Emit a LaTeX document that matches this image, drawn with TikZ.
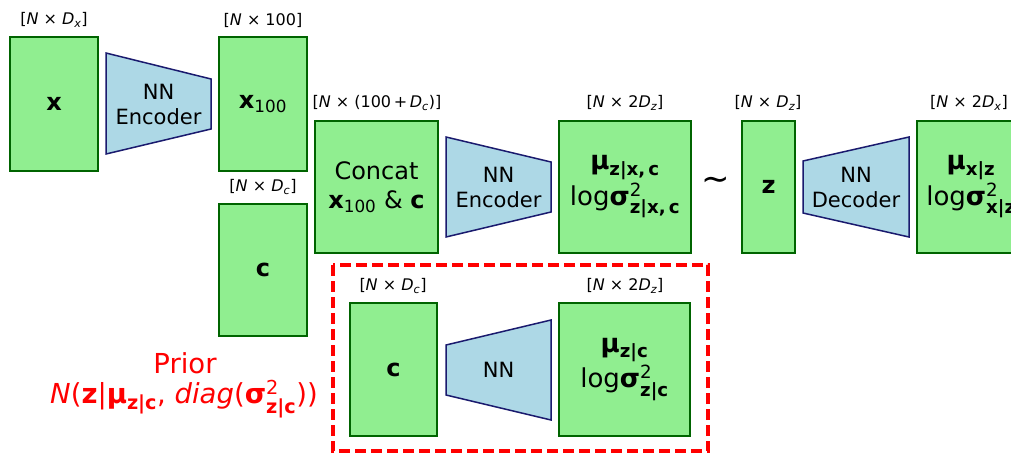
\documentclass[tikz,border=0pt]{standalone}
\usepackage{amsmath}
\usepackage{fontspec}
\setmainfont{DejaVu Sans}
\definecolor{ltgreen}{HTML}{90EE90}
\definecolor{dkgreen}{HTML}{006400}
\definecolor{ltblue}{HTML}{ADD8E6}
\definecolor{navyc}{HTML}{1A1A6E}
\definecolor{redc}{HTML}{FF0000}
\tikzset{
  blk/.style={draw=dkgreen, fill=ltgreen, line width=1.6pt, inner sep=0pt, align=center, font=\fontsize{24}{29}\selectfont},
  mublk/.style={blk, font=\fontsize{26}{31}\selectfont},
  trap/.style={draw=navyc, fill=ltblue, line width=1.5pt, line join=miter},
  dimlab/.style={font=\fontsize{16}{19}\selectfont, inner sep=0pt},
  nnlab/.style={font=\fontsize{21}{25}\selectfont, align=center, inner sep=0pt},
  priorlab/.style={text=redc, font=\fontsize{27.5}{33}\selectfont, inner sep=0pt},
}
\newcommand{\dimx}[1]{[\textit{N} × #1]}
\begin{document}
\begin{tikzpicture}[x=1pt,y=-1pt]
\useasboundingbox (0,0) rectangle (1011,453);
\clip (0,0) rectangle (1011,453);
\fill[white] (0,0) rectangle (1011,453);

% ---- top row: x -> encoder -> x100
\node[blk, minimum width=88, minimum height=134] (bx) at (54,104) {\textbf{x}};
\node[dimlab] (lx) at (54,20) {\dimx{\textit{D}$_{\textit{x}}$}};
\draw[trap] (106,53) -- (211,79) -- (211,129) -- (106,154) -- cycle;
\node[nnlab] (enc1) at (158.5,104) {NN\\Encoder};
\node[blk, minimum width=88, minimum height=134] (bx100) at (263,104) {\textbf{x}$_{\text{100}}$};
\node[dimlab] (lx100) at (263,20) {\dimx{100}};

% ---- c box
\node[blk, minimum width=88, minimum height=132] (bc) at (263,270) {\textbf{c}};
\node[dimlab] (lc) at (263,187) {\dimx{\textit{D}$_{\textit{c}}$}};

% ---- concat -> encoder -> mu
\node[blk, minimum width=123, minimum height=132] (bcat) at (376.5,187) {Concat\\\textbf{x}$_{\text{100}}$ \& \textbf{c}};
\node[dimlab] (lcat) at (377,103) {\dimx{(100\,+\,\textit{D}$_{\textit{c}}$)}};
\draw[trap] (446,137) -- (551,162) -- (551,212) -- (446,237) -- cycle;
\node[nnlab] (enc2) at (498.5,187) {NN\\Encoder};
\node[mublk, minimum width=132, minimum height=132] (bmu) at (625,187) {\textbf{μ}$_{\textbf{z|x,\,c}}$\\[2pt]log\textbf{σ}$^{\text{2}}_{\textbf{z|x,\,c}}$};
\node[dimlab] (lmu) at (625,103) {\dimx{2\textit{D}$_{\textit{z}}$}};

% ---- sampling
\node[font=\fontsize{34}{36}\selectfont, inner sep=0pt] (tilde) at (716,184) {∼};

% ---- z -> decoder -> out
\node[blk, minimum width=53, minimum height=132] (bz) at (768.5,187) {\textbf{z}};
\node[dimlab] (lz) at (768,103) {\dimx{\textit{D}$_{\textit{z}}$}};
\draw[trap] (803,161) -- (909,137) -- (909,237) -- (803,213) -- cycle;
\node[nnlab] (dec) at (856,187) {NN\\Decoder};
\node[mublk, minimum width=108, minimum height=132] (bout) at (971,187) {\textbf{μ}$_{\textbf{x|z}}$\\[2pt]log\textbf{σ}$^{\text{2}}_{\textbf{x|z}}$};
\node[dimlab] (lout) at (969,103) {\dimx{2\textit{D}$_{\textit{x}}$}};

% ---- prior
\draw[redc, line width=3.2pt, dash pattern=on 11pt off 5pt] (333,265) rectangle (708,451);
\node[blk, minimum width=87, minimum height=133] (bc2) at (393.5,369.5) {\textbf{c}};
\node[dimlab] (lc2) at (393,286) {\dimx{\textit{D}$_{\textit{c}}$}};
\draw[trap] (446,345) -- (551,320) -- (551,420) -- (446,395) -- cycle;
\node[nnlab] (nn3) at (498.5,370) {NN};
\node[mublk, minimum width=131, minimum height=133] (bmu2) at (624.5,369.5) {\textbf{μ}$_{\textbf{z|c}}$\\[2pt]log\textbf{σ}$^{\text{2}}_{\textbf{z|c}}$};
\node[dimlab] (lmu2) at (625,286) {\dimx{2\textit{D}$_{\textit{z}}$}};

\node[priorlab] (prior) at (185,363) {Prior};
\node[priorlab] (priorf) at (184,399) {\textit{N}(\textbf{z}|\textbf{μ}$_{\textbf{z|c}}$, \textit{diag}(\textbf{σ}$^{\text{2}}_{\textbf{z|c}}$))};
\end{tikzpicture}
\end{document}
